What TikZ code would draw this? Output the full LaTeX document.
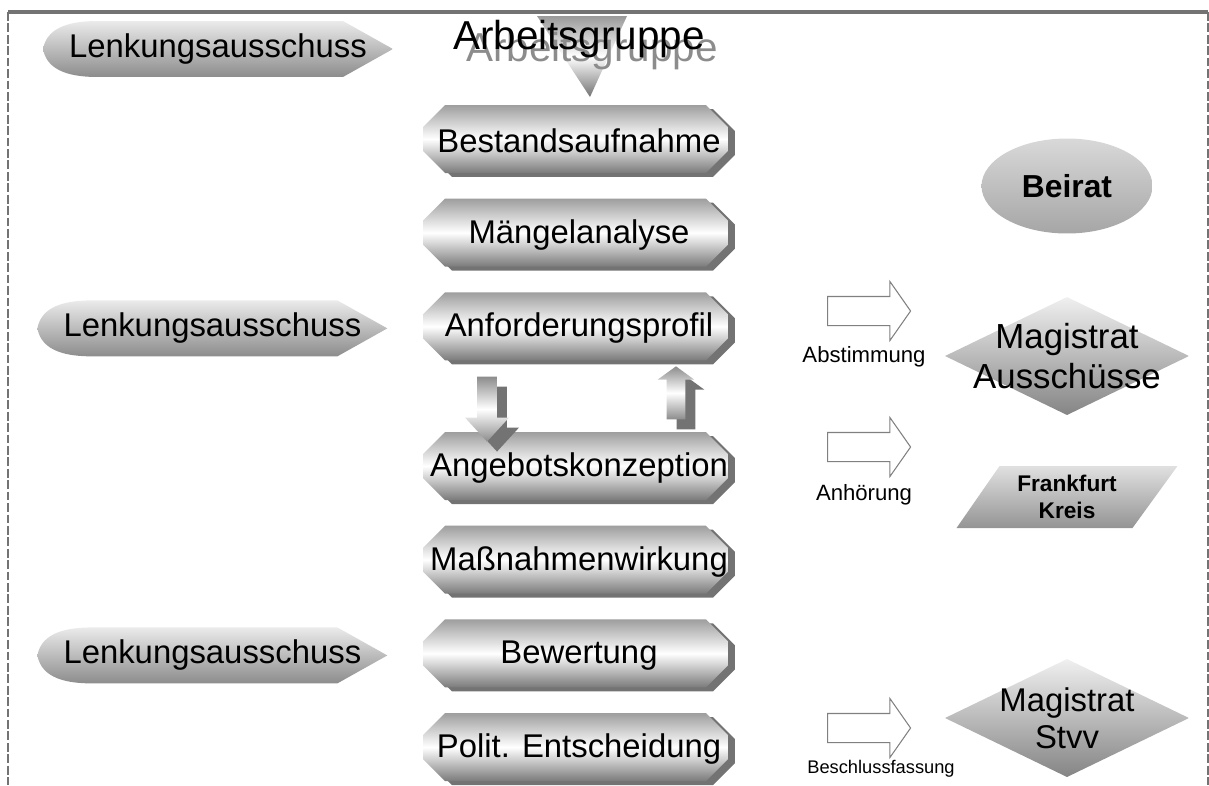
\documentclass[tikz,border=0pt]{standalone}
\usepackage{fontspec}
\setmainfont{Liberation Sans}
\usepackage{tikz}
\usetikzlibrary{positioning}
\usetikzlibrary{shapes.geometric, shapes.arrows, shadows}
\newcommand{\ppb}{path picture bounding box}
\tikzstyle{rahmen} = [draw=black!55]
\tikzstyle{process} = [rectangle, minimum width=6.24cm, minimum height=1.44cm, inner sep=0pt, font=\fontsize{18.7}{22}\selectfont, path picture={
  \fill[black!55] ([xshift=0.58cm]\ppb.south west) -- ([xshift=5.8cm]\ppb.south west) -- ([yshift=0.44cm]\ppb.south east) -- ([yshift=0.92cm]\ppb.south east) -- ([xshift=5.8cm, yshift=1.36cm]\ppb.south west) -- ([xshift=0.58cm, yshift=1.36cm]\ppb.south west) -- ([xshift=0.14cm, yshift=0.92cm]\ppb.south west) -- ([xshift=0.14cm, yshift=0.44cm]\ppb.south west) -- cycle;
  \shade[top color=black!38, bottom color=black!52, middle color=white] ([xshift=0.44cm, yshift=0.08cm]\ppb.south west) -- ([xshift=5.66cm, yshift=0.08cm]\ppb.south west) -- ([xshift=6.1cm, yshift=0.52cm]\ppb.south west) -- ([xshift=6.1cm, yshift=1cm]\ppb.south west) -- ([xshift=5.66cm]\ppb.north west) -- ([xshift=0.44cm]\ppb.north west) -- ([yshift=1cm]\ppb.south west) -- ([yshift=0.52cm]\ppb.south west) -- cycle;}]
\tikzstyle{lenk} = [rectangle, minimum width=7cm, minimum height=1.12cm, inner sep=0pt, font=\fontsize{18.7}{22}\selectfont, path picture={\shade[top color=black!8, bottom color=black!45] ([xshift=-1cm]\ppb.north east) -- (\ppb.east) -- ([xshift=-1cm]\ppb.south east) -- ([xshift=1.1cm]\ppb.south west) to[out=180,in=-80] (\ppb.west) to[out=80,in=180] ([xshift=1.1cm]\ppb.north west) -- cycle;}]
\tikzstyle{decision} = [rectangle, minimum width=4.88cm, minimum height=2.36cm, inner sep=0pt, align=center, path picture={\shade[top color=black!6, bottom color=black!48] (\ppb.north) -- (\ppb.east) -- (\ppb.south) -- (\ppb.west) -- cycle;}]
\tikzstyle{io} = [rectangle, minimum width=4.42cm, minimum height=1.24cm, inner sep=0pt, align=center, font=\bfseries\fontsize{12.9}{15}\selectfont, path picture={\shade[top color=black!12, bottom color=black!42] ([xshift=0.86cm]\ppb.north west) -- (\ppb.north east) -- ([xshift=-0.9cm]\ppb.south east) -- (\ppb.south west) -- cycle;}]
\tikzstyle{hollow} = [single arrow, draw=black!50, line width=0.6pt, fill=white, inner xsep=0pt, inner ysep=0.28cm, single arrow head extend=0.3cm, single arrow tip angle=110, minimum height=1.66cm]
\tikzstyle{flow} = [single arrow, inner xsep=0pt, top color=black!45, bottom color=black!45, middle color=white, drop shadow={shadow xshift=0.2cm, shadow yshift=-0.2cm, fill=black!55, opacity=1}]
\tikzstyle{note} = [font=\fontsize{12.6}{15}\selectfont]

\begin{document}
\begin{tikzpicture}[x=0.02cm, y=0.02cm, node distance=0.42cm]
\useasboundingbox (0,0) rectangle (1209,-785);

% frame
\draw [rahmen, line width=2pt] (8,-12) -- (1208,-12);
\draw [rahmen, line width=1.1pt, dash pattern=on 5pt off 1.5pt] (8,-12) -- (8,-785);
\draw [rahmen, line width=0.6pt, dash pattern=on 5pt off 1.5pt] (1208,-12) -- (1208,-785);

% Arbeitsgruppe
\shade [top color=black!40, bottom color=black!55, middle color=white] (537,-16) -- (627,-16) -- (590,-97) -- cycle;
\node (agshadow) [anchor=base, text=black!45, font=\fontsize{23}{26}\selectfont] at (592,-61) {Arbeitsgruppe};
\node (ag) [anchor=base, font=\fontsize{23}{26}\selectfont] at (579,-49) {Arbeitsgruppe};

\node (best) [process] at (579,-141) {Bestandsaufnahme};
\node (mang) [process, below=of best] {Mängelanalyse};
\node (anf) [process, below=of mang] {Anforderungsprofil};
\node (ang) [process, below=1.34cm of anf] {Angebotskonzeption};
\node (mass) [process, below=of ang] {Maßnahmenwirkung};
\node (bew) [process, below=of mass] {Bewertung};
\node (pol) [process, below=of bew] {Polit. Entscheidung};

\node (ab) [flow, rotate=-90, inner ysep=0.19cm, single arrow head extend=0.24cm, single arrow tip angle=85, minimum height=1.3cm] at ([xshift=-1.84cm, yshift=-0.78cm]anf.south) {};
\node (auf) [flow, rotate=90, inner ysep=0.18cm, single arrow head extend=0.18cm, single arrow tip angle=108, minimum height=1.06cm] at ([xshift=1.94cm, yshift=-0.63cm]anf.south) {};

\node (lenk1) [lenk] at (218,-49) {Lenkungsausschuss};
\node (lenk2) [lenk, left=0.7cm of anf] {Lenkungsausschuss};
\node (lenk3) [lenk, left=0.7cm of bew] {Lenkungsausschuss};

\node (beirat) [ellipse, minimum width=3.42cm, minimum height=1.9cm, top color=black!15, bottom color=black!35, font=\bfseries\fontsize{18.1}{22}\selectfont] at (1067,-186) {Beirat};
\node (mag1) [decision, font=\fontsize{19.8}{22.7}\selectfont] at (1067,-356) {Magistrat\\Ausschüsse};
\node (fk) [io] at (1067,-497) {Frankfurt\\Kreis};
\node (mag2) [decision, font=\fontsize{18.7}{21}\selectfont] at (1067,-718) {Magistrat\\Stvv};

\node (pf1) [hollow] at (864,-311) {};
\node (pf2) [hollow] at (864,-447) {};
\node (pf3) [hollow] at (864,-728) {};
\node (abst) [note, below=0.28cm of pf1] {Abstimmung};
\node (anh) [note, below=0.32cm of pf2] {Anhörung};
\node (beschl) [note, font=\fontsize{10.4}{12}\selectfont, below=0.22cm of pf3, xshift=0.34cm] {Beschlussfassung};
\end{tikzpicture}
\end{document}
